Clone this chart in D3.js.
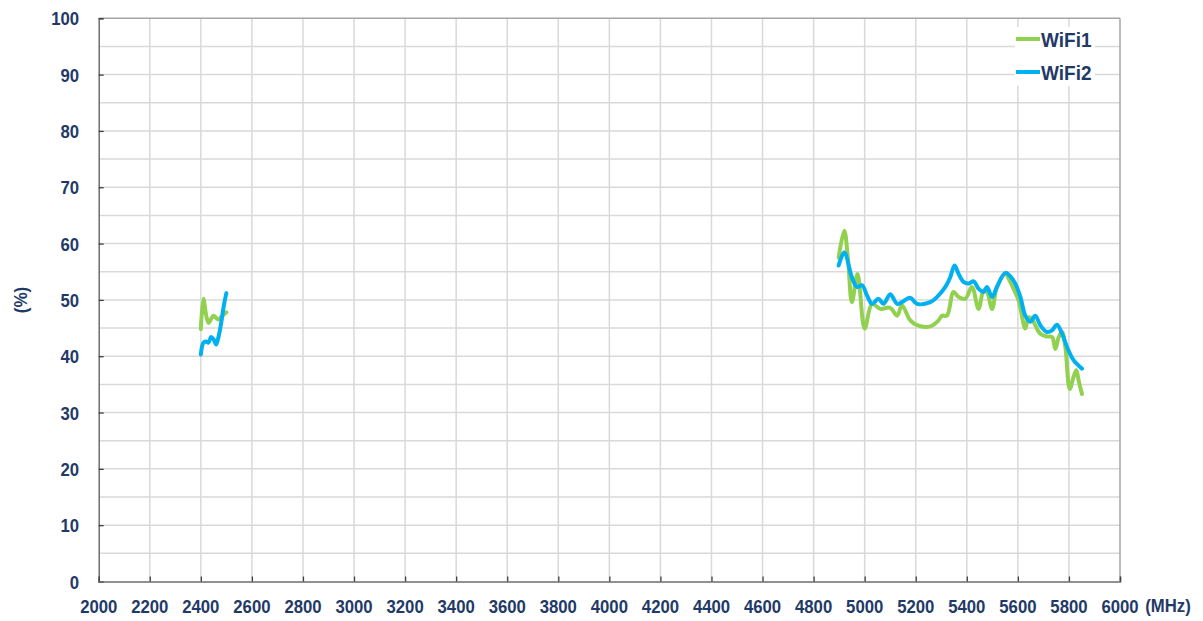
<!DOCTYPE html>
<html><head><meta charset="utf-8">
<script src="https://cdn.jsdelivr.net/npm/d3@7"></script>
<style>body{margin:0;background:#fff}svg{display:block}text{font-family:"Liberation Sans",Arial,sans-serif;font-weight:bold;fill:#1f3a68}</style>
</head><body><svg id="c" width="1203" height="621"></svg>
<script>
const xTicks = [2000,2200,2400,2600,2800,3000,3200,3400,3600,3800,4000,4200,4400,4600,4800,5000,5200,5400,5600,5800,6000];
const yTicks = [0,10,20,30,40,50,60,70,80,90,100];
const seriesNames = ["WiFi1","WiFi2"];
const seriesColors = ["#92d050","#00b0f0"];
// 2.4 GHz band
const wifi1_24 = [[2400,44.8],[2410,50.2],[2420,47.5],[2430,45.9],[2440,46.6],[2450,47.2],[2460,46.8],[2470,46.5],[2480,47.0],[2490,47.4],[2500,47.8]];
const wifi2_24 = [[2400,40.3],[2410,42.4],[2420,42.6],[2430,42.4],[2440,43.4],[2450,43.0],[2460,42.1],[2470,43.6],[2480,46.0],[2490,49.0],[2500,51.2]];
// 5 GHz band
const wifi1_5 = [[4898,57.5],[4920,62.3],[4935,57.0],[4950,49.6],[4972,54.6],[5000,44.9],[5029,49.3],[5061,48.4],[5100,48.6],[5127,47.2],[5146,49.0],[5178,46.4],[5205,45.5],[5257,45.3],[5290,46.4],[5303,47.2],[5322,47.2],[5348,51.4],[5368,50.5],[5394,50.2],[5420,52.3],[5446,48.4],[5466,51.7],[5479,51.4],[5499,48.4],[5518,52.3],[5551,54.6],[5570,53.2],[5583,52.0],[5603,49.9],[5629,44.9],[5642,46.9],[5655,46.7],[5668,45.5],[5688,44.0],[5714,43.5],[5734,43.4],[5747,41.3],[5760,43.4],[5773,44.3],[5786,41.6],[5803,34.2],[5818,36.3],[5829,37.5],[5838,35.7],[5851,33.3]];
const wifi2_5 = [[4898,56.1],[4920,58.4],[4950,54.0],[4970,52.3],[4990,52.6],[5009,50.8],[5029,49.3],[5054,50.2],[5074,49.3],[5100,51.0],[5127,49.3],[5146,49.6],[5178,50.4],[5205,49.3],[5257,49.6],[5283,50.5],[5316,52.3],[5335,54.0],[5352,56.1],[5368,54.6],[5387,53.2],[5407,52.9],[5427,53.3],[5446,52.0],[5466,51.4],[5479,52.3],[5499,50.5],[5518,52.3],[5551,54.8],[5570,54.2],[5590,52.9],[5610,50.5],[5629,47.2],[5649,46.1],[5668,47.2],[5688,45.5],[5714,44.3],[5734,44.6],[5753,45.6],[5773,44.0],[5793,41.6],[5818,39.3],[5851,37.8]];

const svg = d3.select("#c");
const L=98.7, R=1120, T=18.3, B=581.5;
const x = d3.scaleLinear().domain([2000,6000]).range([L,R]);
const y = d3.scaleLinear().domain([0,100]).range([B,T]);

// grid
const g = svg.append("g");
g.selectAll("line.h").data(d3.range(5,100,5)).enter().append("line")
  .attr("x1",L).attr("x2",R).attr("y1",d=>y(d)).attr("y2",d=>y(d))
  .attr("stroke","#d9d9d9").attr("stroke-width",1.5);
g.selectAll("line.v").data(xTicks.slice(1,-1)).enter().append("line")
  .attr("x1",d=>x(d)).attr("x2",d=>x(d)).attr("y1",T).attr("y2",B)
  .attr("stroke","#d9d9d9").attr("stroke-width",1.5);
svg.append("line").attr("x1",L).attr("x2",R).attr("y1",T).attr("y2",T).attr("stroke","#a6a6a6").attr("stroke-width",1.5);
svg.append("line").attr("x1",R).attr("x2",R).attr("y1",T).attr("y2",B).attr("stroke","#a6a6a6").attr("stroke-width",1.5);

// axes
const yAxis = svg.append("g").attr("transform",`translate(${L},0)`)
  .call(d3.axisRight(y).tickValues(yTicks).tickSize(5).tickFormat(""));
yAxis.select(".domain").attr("stroke","#6e6e6e").attr("stroke-width",1.5);
yAxis.selectAll(".tick line").attr("stroke","#404040").attr("stroke-width",1.3);
const xAxis = svg.append("g").attr("transform",`translate(0,${B})`)
  .call(d3.axisTop(x).tickValues(xTicks).tickSize(5).tickFormat(""));
xAxis.select(".domain").attr("stroke","#6e6e6e").attr("stroke-width",1.5);
xAxis.selectAll(".tick line").attr("stroke","#404040").attr("stroke-width",1.3);

// tick labels (slightly condensed bold font)
const SX = 0.88;
svg.selectAll("text.yl").data(yTicks).enter().append("text")
  .attr("transform",d=>`translate(79,${y(d)+7}) scale(${SX},1)`).attr("text-anchor","end")
  .attr("font-size","19px").text(d=>d);
svg.selectAll("text.xl").data(xTicks).enter().append("text")
  .attr("transform",d=>`translate(${x(d)},613) scale(${SX},1)`).attr("text-anchor","middle")
  .attr("font-size","19px").text(d=>d);
svg.append("text").attr("transform",`translate(1168,612) scale(${SX},1)`).attr("text-anchor","middle").attr("font-size","19px").text("(MHz)");
svg.append("text").attr("transform","translate(27,300) rotate(-90) scale(0.9,1)").attr("text-anchor","middle").attr("font-size","19px").text("(%)");

// lines
const line = d3.line().x(d=>x(d[0])).y(d=>y(d[1])).curve(d3.curveCatmullRom.alpha(0.5));
const data = [[wifi1_24,0],[wifi1_5,0],[wifi2_24,1],[wifi2_5,1]];
svg.selectAll("path.s").data(data).enter().append("path")
  .attr("d",d=>line(d[0])).attr("fill","none")
  .attr("stroke",d=>seriesColors[d[1]]).attr("stroke-width",4)
  .attr("stroke-linejoin","round").attr("stroke-linecap","round");

// legend
svg.append("rect").attr("x",1015).attr("y",27).attr("width",80).attr("height",59).attr("fill","#fff");
const lg = svg.selectAll("g.lg").data(seriesNames).enter().append("g")
  .attr("transform",(d,i)=>`translate(0,${i*33})`);
lg.append("line").attr("x1",1016).attr("x2",1040).attr("y1",39).attr("y2",39)
  .attr("stroke",(d,i)=>seriesColors[i]).attr("stroke-width",4);
lg.append("text").attr("transform","translate(1041,47) scale(0.95,1)").attr("font-size","20px").text(d=>d);
</script></body></html>
